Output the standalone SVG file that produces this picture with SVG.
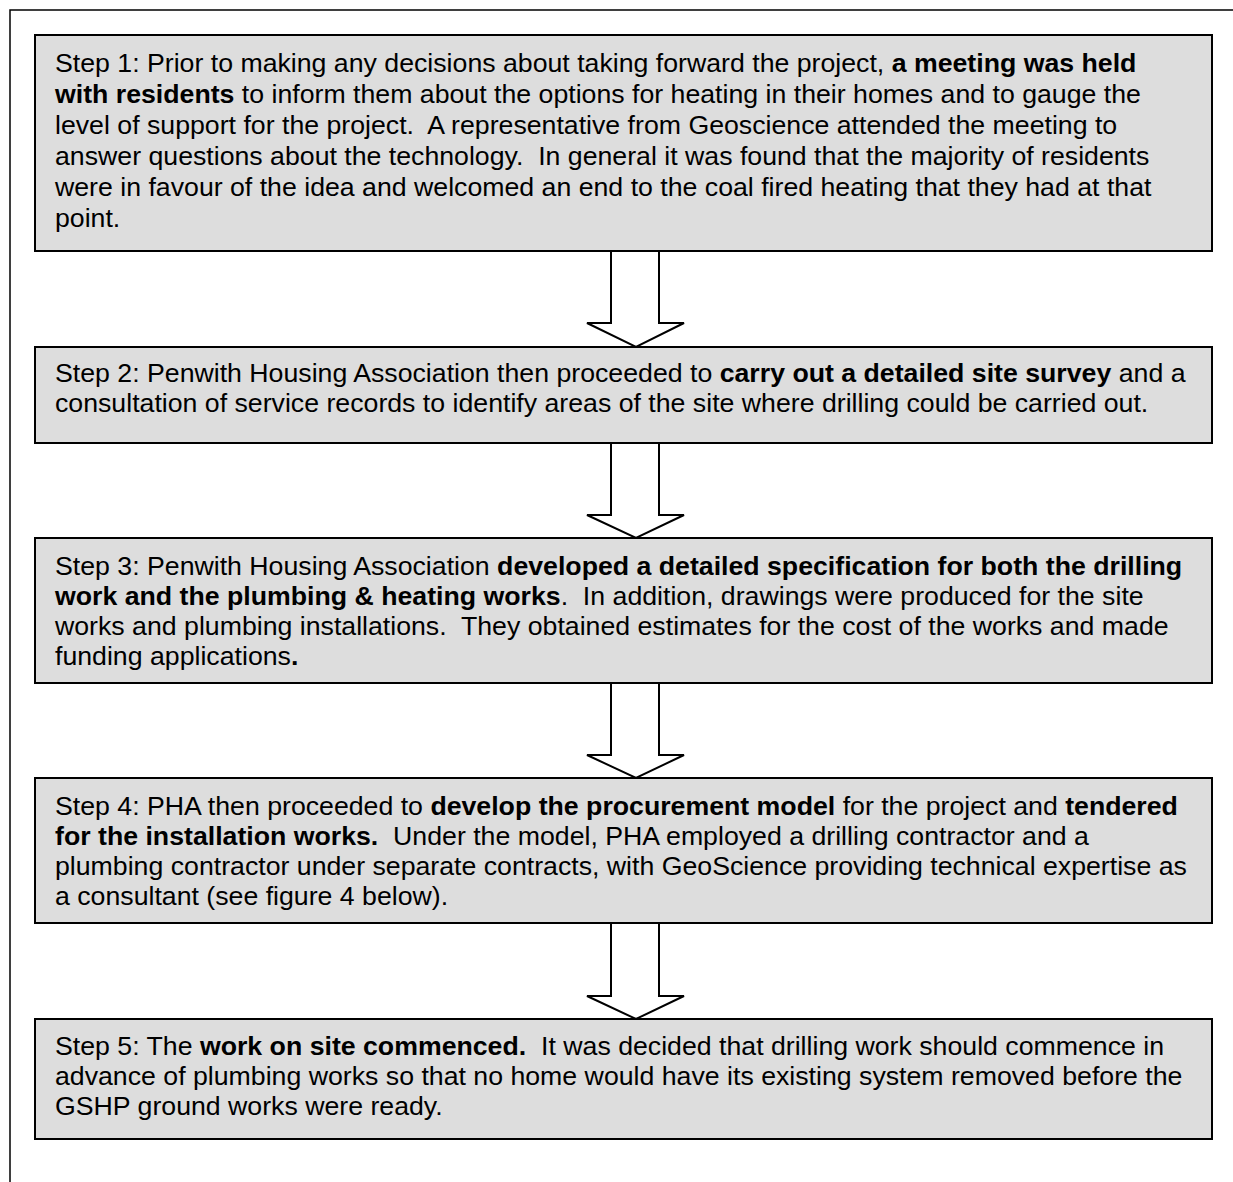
<svg xmlns="http://www.w3.org/2000/svg" width="1233" height="1182" viewBox="0 0 1233 1182">
<style>
.frame{fill:none;stroke:#000;stroke-width:1.5}
.box{fill:#dddddd;stroke:#000;stroke-width:2}
.arrow{fill:#fff;stroke:#000;stroke-width:2;stroke-linejoin:miter}
text{font-family:"Liberation Sans",Arial,sans-serif;font-size:26.7px;fill:#000;white-space:pre}
.b{font-weight:bold}
</style>
<rect x="0" y="0" width="1233" height="1182" fill="#fff"/>
<rect class="frame" x="10" y="10" width="1240" height="1200"/>
<g id="connectors">
<polygon class="arrow" points="611,251 659,251 659,323 684,323 636,347 587,323 611,323"/>
<polygon class="arrow" points="611,443 659,443 659,515 684,515 636,538 587,515 611,515"/>
<polygon class="arrow" points="611,683 659,683 659,755 684,755 636,778 587,755 611,755"/>
<polygon class="arrow" points="611,923 659,923 659,996 684,996 636,1019 587,996 611,996"/>
</g>
<g id="step1">
<rect class="box" x="35" y="35" width="1177" height="216"/>
<text x="55" y="72">Step 1: Prior to making any decisions about taking forward the project, <tspan class="b">a meeting was held</tspan></text>
<text x="55" y="103"><tspan class="b">with residents</tspan> to inform them about the options for heating in their homes and to gauge the</text>
<text x="55" y="134">level of support for the project.  A representative from Geoscience attended the meeting to</text>
<text x="55" y="165">answer questions about the technology.  In general it was found that the majority of residents</text>
<text x="55" y="196">were in favour of the idea and welcomed an end to the coal fired heating that they had at that</text>
<text x="55" y="227">point.</text>
</g>
<g id="step2">
<rect class="box" x="35" y="347" width="1177" height="96"/>
<text x="55" y="382">Step 2: Penwith Housing Association then proceeded to <tspan class="b">carry out a detailed site survey</tspan> and a</text>
<text x="55" y="412">consultation of service records to identify areas of the site where drilling could be carried out.</text>
</g>
<g id="step3">
<rect class="box" x="35" y="538" width="1177" height="145"/>
<text x="55" y="575">Step 3: Penwith Housing Association <tspan class="b">developed a detailed specification for both the drilling</tspan></text>
<text x="55" y="605"><tspan class="b">work and the plumbing &amp; heating works</tspan>.  In addition, drawings were produced for the site</text>
<text x="55" y="635">works and plumbing installations.  They obtained estimates for the cost of the works and made</text>
<text x="55" y="665">funding applications<tspan class="b">.</tspan></text>
</g>
<g id="step4">
<rect class="box" x="35" y="778" width="1177" height="145"/>
<text x="55" y="815">Step 4: PHA then proceeded to <tspan class="b">develop the procurement model</tspan> for the project and <tspan class="b">tendered</tspan></text>
<text x="55" y="845"><tspan class="b">for the installation works.</tspan>  Under the model, PHA employed a drilling contractor and a</text>
<text x="55" y="875">plumbing contractor under separate contracts, with GeoScience providing technical expertise as</text>
<text x="55" y="905">a consultant (see figure 4 below).</text>
</g>
<g id="step5">
<rect class="box" x="35" y="1019" width="1177" height="120"/>
<text x="55" y="1055">Step 5: The <tspan class="b">work on site commenced.</tspan>  It was decided that drilling work should commence in</text>
<text x="55" y="1085">advance of plumbing works so that no home would have its existing system removed before the</text>
<text x="55" y="1115">GSHP ground works were ready.</text>
</g>
</svg>
